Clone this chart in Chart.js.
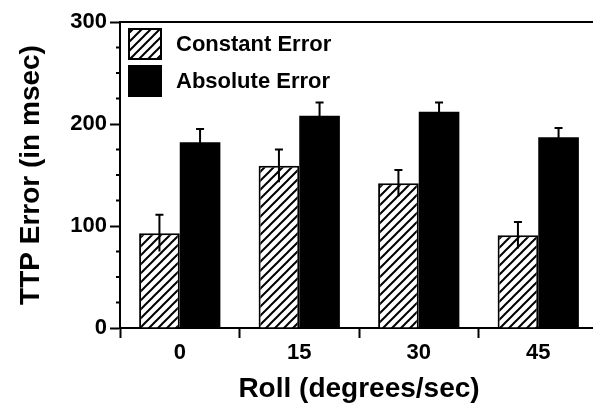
<!DOCTYPE html>
<html>
<head>
<meta charset="utf-8">
<script src="https://cdn.jsdelivr.net/npm/chart.js@4/dist/chart.umd.min.js"></script>
<style>
  html, body { margin: 0; padding: 0; background: #fff; overflow: hidden; }
  #wrap { width: 600px; height: 404px; position: relative; }
</style>
</head>
<body>
<div id="wrap"><canvas id="ttpChart"></canvas></div>
<script>
// --------------------- Data ---------------------
const rollRates = ['0', '15', '30', '45'];
const constantError = [93, 159, 142, 91];
const constantErrorSE = [18, 16, 13, 13];
const absoluteError = [182, 208, 212, 187];
const absoluteErrorSE = [13, 13, 9, 9];
const yTicks = [0, 100, 200, 300];

const FONT = '"Liberation Sans", Arial, Helvetica, sans-serif';

// --------------------- Hatch pattern ---------------------
function makeHatch() {
  const size = 9;
  const c = document.createElement('canvas');
  c.width = size; c.height = size;
  const g = c.getContext('2d');
  g.fillStyle = '#fff';
  g.fillRect(0, 0, size, size);
  g.strokeStyle = '#000';
  g.lineWidth = 2;
  g.beginPath();
  g.moveTo(-1, size + 1); g.lineTo(size + 1, -1);
  g.moveTo(-2, 2); g.lineTo(2, -2);
  g.moveTo(size - 2, size + 2); g.lineTo(size + 2, size - 2);
  g.stroke();
  return g.createPattern(c, 'repeat');
}
const hatch = makeHatch();

// --------------------- Plugins ---------------------
const errorBars = {
  id: 'errorBars',
  afterDatasetsDraw(chart) {
    const ctx = chart.ctx;
    const y = chart.scales.y;
    ctx.save();
    ctx.strokeStyle = '#000';
    ctx.lineWidth = 2;
    chart.data.datasets.forEach((ds, di) => {
      const meta = chart.getDatasetMeta(di);
      meta.data.forEach((bar, i) => {
        const v = ds.data[i], e = ds.errors[i];
        const top = y.getPixelForValue(v + e);
        const bot = y.getPixelForValue(v - e);
        ctx.beginPath();
        ctx.moveTo(bar.x, bot);
        ctx.lineTo(bar.x, top);
        ctx.moveTo(bar.x - 4, top);
        ctx.lineTo(bar.x + 4, top);
        ctx.stroke();
      });
    });
    ctx.restore();
  }
};

const frame = {
  id: 'frame',
  afterDraw(chart) {
    const ctx = chart.ctx;
    const a = chart.chartArea;
    const y = chart.scales.y;
    ctx.save();
    ctx.strokeStyle = '#000';
    ctx.lineWidth = 2;
    // top border
    ctx.beginPath();
    ctx.moveTo(a.left, a.top);
    ctx.lineTo(a.right, a.top);
    ctx.stroke();
    // minor ticks on y
    ctx.beginPath();
    for (let v = 25; v < 300; v += 25) {
      if (v % 100 === 0) continue;
      const py = y.getPixelForValue(v);
      ctx.moveTo(a.left - 4, py);
      ctx.lineTo(a.left, py);
    }
    ctx.stroke();

    // legend inside the plot
    ctx.font = 'bold 22px ' + FONT;
    ctx.textBaseline = 'middle';
    ctx.fillStyle = '#000';
    chart.data.datasets.forEach((ds, i) => {
      const bx = a.left + 9, by = a.top + 7 + i * 37, bw = 32, bh = 30;
      ctx.fillStyle = ds.backgroundColor;
      ctx.fillRect(bx, by, bw, bh);
      ctx.strokeRect(bx, by, bw, bh);
      ctx.fillStyle = '#000';
      ctx.fillText(ds.label, a.left + 56, by + bh / 2 + 1);
    });
    ctx.restore();
  }
};

// --------------------- Chart ---------------------
const ctx = document.getElementById('ttpChart').getContext('2d');
new Chart(ctx, {
  type: 'bar',
  data: {
    labels: rollRates,
    datasets: [
      {
        label: 'Constant Error',
        data: constantError,
        errors: constantErrorSE,
        backgroundColor: hatch,
        borderColor: '#000',
        borderWidth: 2
      },
      {
        label: 'Absolute Error',
        data: absoluteError,
        errors: absoluteErrorSE,
        backgroundColor: '#000',
        borderColor: '#000',
        borderWidth: 0
      }
    ]
  },
  options: {
    responsive: true,
    maintainAspectRatio: false,
    animation: false,
    layout: { padding: { top: 22, right: 2, left: 0, bottom: 0 } },
    datasets: { bar: { categoryPercentage: 0.68, barPercentage: 1.0 } },
    plugins: {
      legend: { display: false },
      tooltip: { enabled: false }
    },
    scales: {
      x: {
        afterFit: s => { s.height = 76; },
        grid: { offset: true, drawOnChartArea: false, tickLength: 10, tickWidth: 2, tickColor: '#000' },
        border: { display: true, color: '#000', width: 2 },
        ticks: { color: '#000', padding: 2, font: { family: FONT, size: 22, weight: 'bold' } },
        title: {
          display: true,
          text: 'Roll (degrees/sec)',
          color: '#000',
          font: { family: FONT, size: 28, weight: 'bold' },
          padding: { top: 0, bottom: -2 }
        }
      },
      y: {
        min: 0,
        max: 300,
        afterFit: s => { s.width = 120; },
        afterBuildTicks: s => { s.ticks = yTicks.map(v => ({ value: v })); },
        grid: { drawOnChartArea: false, tickLength: 10, tickWidth: 2, tickColor: '#000' },
        border: { display: true, color: '#000', width: 2 },
        ticks: { color: '#000', padding: 3, font: { family: FONT, size: 22, weight: 'bold' } },
        title: {
          display: true,
          text: 'TTP Error (in msec)',
          color: '#000',
          font: { family: FONT, size: 28, weight: 'bold' },
          padding: { top: 14, bottom: 0 }
        }
      }
    }
  },
  plugins: [errorBars, frame]
});
</script>
</body>
</html>
